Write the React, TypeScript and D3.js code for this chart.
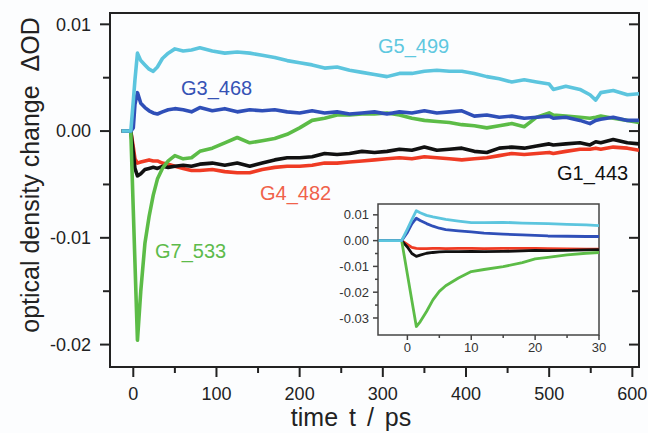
import React from 'react'
import { scaleLinear, line } from 'd3'

// main panel: time (ps) and ΔOD in units of 1e-3
const time = [-14, -8, -3, 0, 2, 5, 9, 14, 19, 24, 29, 35, 42, 50, 60, 70, 80, 95, 110, 125, 140, 155, 170, 185, 200, 215, 230, 245, 260, 275, 290, 305, 320, 335, 350, 365, 380, 395, 410, 425, 440, 455, 470, 485, 500, 505, 520, 537, 549, 556, 562, 577, 594, 608]
const g5_499 = [0, 0, 0, 2.8, 4.8, 7.3, 6.6, 6.2, 5.8, 5.6, 6.0, 6.8, 7.3, 7.7, 7.5, 7.6, 7.8, 7.5, 7.3, 7.4, 7.3, 7.1, 6.9, 6.6, 6.4, 6.2, 5.9, 6.0, 5.7, 5.5, 5.3, 5.1, 5.4, 5.4, 5.6, 5.7, 5.6, 5.6, 5.4, 5.1, 4.9, 4.6, 4.8, 4.6, 4.4, 3.9, 4.2, 3.9, 3.4, 2.9, 3.6, 3.8, 3.4, 3.5]
const g3_468 = [0, 0, 0, 0.3, 2.5, 3.6, 2.6, 2.2, 1.9, 1.7, 1.6, 1.8, 2.0, 2.1, 2.0, 1.8, 2.2, 1.9, 2.1, 1.8, 2.0, 1.9, 2.0, 1.8, 1.7, 1.9, 1.7, 1.8, 1.6, 1.7, 1.8, 1.6, 1.8, 1.7, 1.9, 1.7, 1.8, 1.9, 1.4, 1.5, 1.3, 1.4, 1.2, 1.3, 1.4, 1.2, 1.3, 1.0, 0.7, 1.0, 1.1, 1.3, 1.0, 1.0]
const g7_533 = [0, 0, 0, -7.4, -12.3, -19.6, -15.0, -10.5, -8.0, -6.0, -4.5, -3.5, -2.8, -2.3, -2.6, -2.5, -1.9, -1.6, -1.1, -0.6, -1.1, -0.9, -0.7, -0.3, 0.3, 1.0, 1.2, 1.5, 1.5, 1.6, 1.6, 1.7, 1.5, 1.2, 1.0, 0.9, 0.8, 0.6, 0.5, 0.3, 0.5, 0.7, 0.4, 1.3, 1.7, 1.5, 1.4, 1.3, 1.2, 1.3, 1.4, 1.2, 1.0, 0.8]
const g1_443 = [0, 0, 0, -2.0, -3.5, -4.2, -4.0, -3.6, -3.5, -3.4, -3.5, -3.3, -3.4, -3.3, -3.2, -3.3, -3.1, -3.0, -3.2, -3.0, -3.3, -3.0, -2.7, -2.5, -2.5, -2.4, -2.1, -2.2, -2.1, -1.9, -2.0, -1.9, -1.7, -1.8, -1.5, -1.8, -1.7, -1.6, -1.9, -2.0, -1.6, -1.5, -1.6, -1.4, -1.2, -1.3, -1.2, -1.1, -1.3, -1.0, -1.1, -0.8, -1.1, -1.2]
const g4_482 = [0, 0, 0, -1.5, -2.6, -3.0, -2.9, -2.8, -2.7, -2.8, -2.8, -3.0, -3.1, -3.3, -3.5, -3.7, -3.7, -3.6, -3.8, -3.9, -3.9, -3.6, -3.4, -3.3, -3.3, -3.2, -3.0, -3.0, -2.9, -2.8, -2.7, -2.6, -2.5, -2.6, -2.4, -2.5, -2.6, -2.7, -2.6, -2.5, -2.3, -2.1, -2.2, -2.1, -2.0, -2.1, -1.9, -1.7, -1.7, -1.6, -1.7, -1.5, -1.6, -1.8]

// inset: first 30 ps
const insetTime = [-4.5, -2, -0.9, 0, 0.7, 1.4, 2, 3, 4, 5, 6, 8, 10, 12, 15, 18, 20, 22, 25, 28, 30]
const inG5 = [0, 0, 0, 4.5, 8.1, 11.6, 10.8, 9.8, 9.2, 8.7, 8.2, 7.6, 7.0, 7.0, 7.1, 6.8, 6.7, 6.6, 6.3, 6.1, 5.8]
const inG3 = [0, 0, 0, 3.2, 6.5, 8.7, 7.8, 6.6, 5.6, 4.8, 4.3, 3.8, 3.4, 2.9, 2.5, 2.2, 2.0, 1.8, 1.7, 1.6, 1.6]
const inG1 = [0, 0, 0, -2.5, -5.0, -6.1, -5.6, -4.9, -4.6, -4.4, -4.3, -4.3, -4.2, -4.3, -4.2, -4.0, -3.8, -3.9, -3.8, -3.6, -3.5]
const inG4 = [0, 0, 0, -1.5, -2.6, -3.0, -3.1, -3.1, -3.0, -3.0, -3.1, -3.0, -3.0, -3.1, -3.0, -3.0, -3.0, -3.1, -3.2, -3.3, -3.3]
const inG7 = [0, 0, 0, -13.0, -23.2, -33.3, -31.5, -27.5, -23.0, -19.7, -17.5, -14.5, -12.0, -11.2, -10.1, -8.5, -7.1, -6.5, -5.5, -4.9, -4.6]

const xTicks = [0, 100, 200, 300, 400, 500, 600]
const xMinor = [50, 150, 250, 350, 450, 550]
const yTicks = [0.01, 0, -0.01, -0.02]
const yMinor = [0.005, -0.005, -0.015]
const inXTicks = [0, 10, 20, 30]
const inXMinor = [5, 15, 25]
const inYTicks = [0.01, 0, -0.01, -0.02, -0.03]
const inYMinor = [0.005, -0.005, -0.015, -0.025]

const FONT = '"Liberation Sans", Arial, sans-serif'
const fmt = (v: number) => (Math.abs(v) < 1e-9 ? '0.00' : v.toFixed(2))

const COLORS = { g5: '#5cc5de', g3: '#2f4fb8', g7: '#5cbc47', g1: '#111111', g4: '#ef3b24' }

export default function App() {
  const x = scaleLinear().domain([-28, 608]).range([110, 639])
  const y = scaleLinear().domain([-0.0221, 0.01106]).range([367, 13])
  const ix = scaleLinear().domain([-4.6, 30]).range([378, 599])
  const iy = scaleLinear().domain([-0.0366, 0.0142]).range([335, 204])

  const mainLine = (vals: number[]) =>
    line<number>().x((_, i) => x(time[i])).y(v => y(v / 1000))(vals) || ''
  const insetLine = (vals: number[]) =>
    line<number>().x((_, i) => ix(insetTime[i])).y(v => iy(v / 1000))(vals) || ''

  // drawing order: blue over green, cyan on top
  const mainSeries = [
    { v: g4_482, c: COLORS.g4 },
    { v: g1_443, c: COLORS.g1 },
    { v: g7_533, c: COLORS.g7 },
    { v: g3_468, c: COLORS.g3 },
    { v: g5_499, c: COLORS.g5 },
  ]
  const insetSeries = [
    { v: inG4, c: COLORS.g4 },
    { v: inG1, c: COLORS.g1 },
    { v: inG7, c: COLORS.g7 },
    { v: inG3, c: COLORS.g3 },
    { v: inG5, c: COLORS.g5 },
  ]

  const axisColor = '#222'
  return (
    <svg width={648} height={433} style={{ position: 'absolute', left: 0, top: 0, background: '#fcfdfe' }} fontFamily={FONT}>
      <rect x={110} y={13} width={529} height={354} fill="none" stroke={axisColor} strokeWidth={2} />

      {/* bottom axis */}
      {xTicks.map(t => (
        <g key={'xt' + t}>
          <line x1={x(t)} x2={x(t)} y1={367} y2={377} stroke={axisColor} strokeWidth={2} />
          <text x={x(t)} y={400} fontSize={18} textAnchor="middle" fill="#222">{t}</text>
        </g>
      ))}
      {xMinor.map(t => (
        <line key={'xm' + t} x1={x(t)} x2={x(t)} y1={367} y2={373} stroke={axisColor} strokeWidth={2} />
      ))}

      {/* left axis, mirrored ticks on the right pointing in */}
      {yTicks.map(t => (
        <g key={'yt' + t}>
          <line x1={100} x2={110} y1={y(t)} y2={y(t)} stroke={axisColor} strokeWidth={2} />
          <line x1={629} x2={639} y1={y(t)} y2={y(t)} stroke={axisColor} strokeWidth={2} />
          <text x={91} y={y(t)} dy="0.35em" fontSize={18} textAnchor="end" fill="#222">{fmt(t)}</text>
        </g>
      ))}
      {yMinor.map(t => (
        <g key={'ym' + t}>
          <line x1={103} x2={110} y1={y(t)} y2={y(t)} stroke={axisColor} strokeWidth={2} />
          <line x1={632} x2={639} y1={y(t)} y2={y(t)} stroke={axisColor} strokeWidth={2} />
        </g>
      ))}

      <text x={351} y={426} fontSize={25} textAnchor="middle" fill="#222" wordSpacing={4}>time t / ps</text>
      <text transform="translate(39,175) rotate(-90)" fontSize={25} textAnchor="middle" fill="#222" style={{ whiteSpace: 'pre' }}>{'optical density change  \u0394OD'}</text>

      {mainSeries.map((s, i) => (
        <path key={'m' + i} d={mainLine(s.v)} fill="none" stroke={s.c} strokeWidth={3.6} strokeLinejoin="round" />
      ))}

      <text x={378} y={53} fontSize={20} fill="#5fc8e0">G5_499</text>
      <text x={181} y={95} fontSize={20} fill="#3552b5">G3_468</text>
      <text x={260} y={200} fontSize={20} fill="#f0624a">G4_482</text>
      <text x={155} y={258} fontSize={20} fill="#5dbb4b">G7_533</text>
      <text x={557} y={180} fontSize={20} fill="#111">G1_443</text>

      {/* inset */}
      <rect x={378} y={204} width={221} height={131} fill="none" stroke="#444" strokeWidth={1.5} />
      {inXTicks.map(t => (
        <g key={'ixt' + t}>
          <line x1={ix(t)} x2={ix(t)} y1={335} y2={340} stroke="#444" strokeWidth={1.5} />
          <text x={ix(t)} y={352} fontSize={13} textAnchor="middle" fill="#333">{t}</text>
        </g>
      ))}
      {inXMinor.map(t => (
        <line key={'ixm' + t} x1={ix(t)} x2={ix(t)} y1={335} y2={338} stroke="#444" strokeWidth={1.5} />
      ))}
      {inYTicks.map(t => (
        <g key={'iyt' + t}>
          <line x1={373} x2={378} y1={iy(t)} y2={iy(t)} stroke="#444" strokeWidth={1.5} />
          <text x={369} y={iy(t)} dy="0.35em" fontSize={13} textAnchor="end" fill="#333">{fmt(t)}</text>
        </g>
      ))}
      {inYMinor.map(t => (
        <line key={'iym' + t} x1={375} x2={378} y1={iy(t)} y2={iy(t)} stroke="#444" strokeWidth={1.5} />
      ))}
      {insetSeries.map((s, i) => (
        <path key={'i' + i} d={insetLine(s.v)} fill="none" stroke={s.c} strokeWidth={2.8} strokeLinejoin="round" />
      ))}
    </svg>
  )
}
